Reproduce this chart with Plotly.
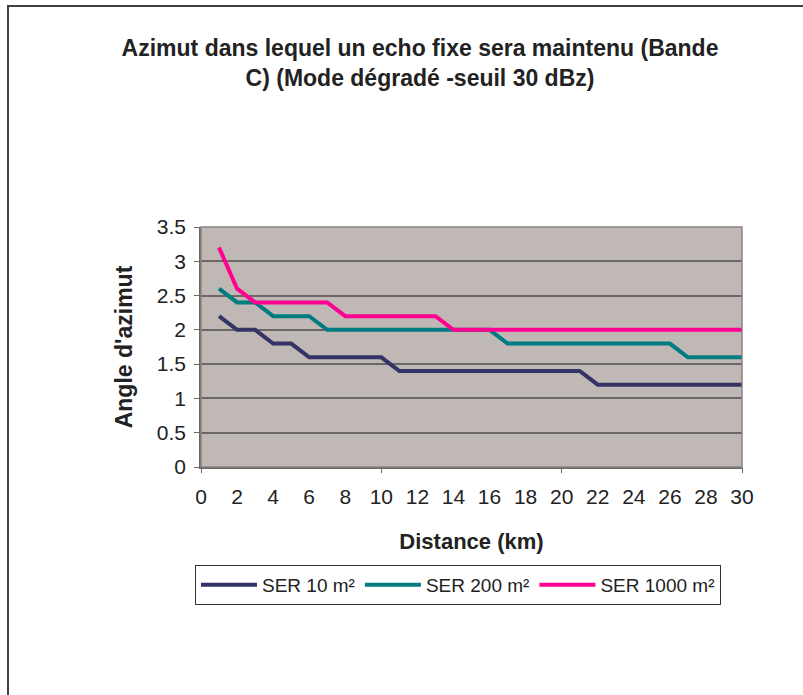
import plotly.graph_objects as go

distance_km = list(range(1, 31))
ser_10 = [2.2, 2.0, 2.0, 1.8, 1.8] + [1.6] * 5 + [1.4] * 11 + [1.2] * 9
ser_200 = [2.6, 2.4, 2.4, 2.2, 2.2, 2.2] + [2.0] * 10 + [1.8] * 10 + [1.6] * 4
ser_1000 = [3.2, 2.6, 2.4, 2.4, 2.4, 2.4, 2.4] + [2.2] * 6 + [2.0] * 17

series_names = ["SER 10 m²", "SER 200 m²", "SER 1000 m²"]
series_colors = ["#333366", "#007B80", "#FF0090"]
x_tick_vals = list(range(0, 31, 2))
y_tick_vals = [0, 0.5, 1, 1.5, 2, 2.5, 3, 3.5]
y_tick_text = ["0", "0.5", "1", "1.5", "2", "2.5", "3", "3.5"]

W, H = 803, 695
L, R, T, B = 201, 61, 227, 228
pw, ph = W - L - R, H - T - B

def px_x(p):
    return (p - L) / pw

def px_y(p):
    return (H - B - p) / ph

fig = go.Figure()
for name, vals, col in zip(series_names, [ser_10, ser_200, ser_1000], series_colors):
    fig.add_trace(go.Scatter(x=distance_km, y=vals, mode="lines", name=name,
                             line=dict(color=col, width=4)))

# helper trace for x tick marks at 0,10,20,30
fig.add_trace(go.Scatter(x=[0, 30], y=[None, None], xaxis="x2", showlegend=False, hoverinfo="skip"))

FONT = "Liberation Sans, Arial, sans-serif"
fig.update_layout(
    width=W, height=H,
    margin=dict(l=L, r=R, t=T, b=B),
    paper_bgcolor="white",
    plot_bgcolor="#C0B8B5",
    font=dict(family=FONT, color="#222222", size=21),
    title=dict(text="<b>Azimut dans lequel un echo fixe sera maintenu (Bande<br>C) (Mode dégradé -seuil 30 dBz)</b>",
               x=420 / W, xanchor="center", y=1 - 56 / H, yanchor="middle", yref="container",
               font=dict(size=23, family=FONT, color="#222222")),
    xaxis=dict(range=[0, 30], tickvals=x_tick_vals, showgrid=False, zeroline=False,
               showline=True, linecolor="#6B6767", linewidth=1.5, ticks="",
               tickfont=dict(size=21), ticklabelstandoff=10,
               title=dict(text="<b>Distance (km)</b>", font=dict(size=22), standoff=27)),
    xaxis2=dict(range=[0, 30], overlaying="x", side="bottom", tickvals=[0, 10, 20, 30],
                showticklabels=False, ticks="outside", ticklen=5, tickcolor="#6B6767",
                showgrid=False, zeroline=False, showline=False),
    yaxis=dict(range=[0, 3.5], tickvals=y_tick_vals, ticktext=y_tick_text, showgrid=True,
               gridcolor="#6B6767", gridwidth=1.5, zeroline=False, showline=True,
               linecolor="#6B6767", linewidth=1.5, ticks="outside", ticklen=5, tickcolor="#6B6767",
               tickfont=dict(size=21), ticklabelstandoff=4,
               title=dict(text="<b>Angle d'azimut</b>", font=dict(size=23), standoff=18)),
    legend=dict(orientation="h", x=px_x(458), xanchor="center", y=px_y(565), yanchor="top",
                bordercolor="#333333", borderwidth=1, bgcolor="white",
                font=dict(size=19), itemwidth=56, tracegroupgap=0),
    showlegend=True,
)

# plot area border
fig.add_shape(type="rect", xref="paper", yref="paper", x0=0, x1=1, y0=0, y1=1,
              line=dict(color="#8A8482", width=1.5), layer="above")
# outer chart border (left/top visible)
fig.add_shape(type="rect", xref="paper", yref="paper", x0=px_x(8), x1=px_x(812), y0=px_y(6), y1=px_y(705),
              line=dict(color="#404040", width=2))

fig.write_html("out.html")
